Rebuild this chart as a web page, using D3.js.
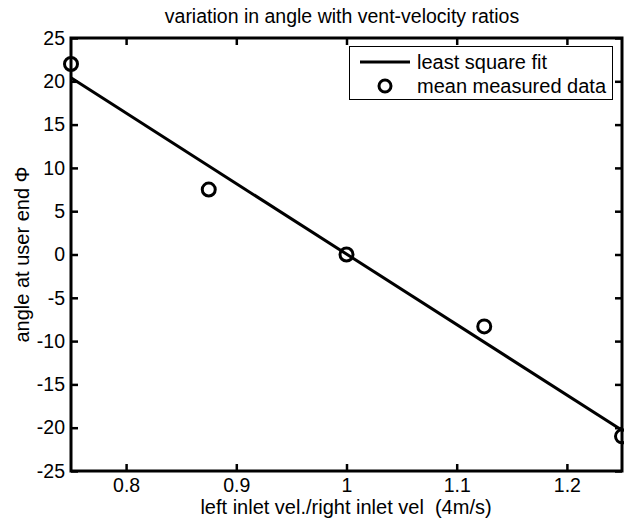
<!DOCTYPE html>
<html>
<head>
<meta charset="utf-8">
<script src="https://cdn.jsdelivr.net/npm/d3@7"></script>
<style>
  body { margin: 0; background: #fff; }
  svg { font-family: "Liberation Sans", Arial, sans-serif; }
  .lbl { white-space: pre; }
</style>
</head>
<body>
<svg id="chart" width="624" height="518"></svg>
<script>
// measured points
const ratios = [0.75, 0.875, 1.0, 1.125, 1.25];
const angles = [22, 7.5, 0, -8.3, -21];

// least square fit line, end points
const fitX = [0.75, 1.25];
const fitY = [20.4, -20.3];

const xTicks = [0.8, 0.9, 1, 1.1, 1.2];
const yTicks = [-25, -20, -15, -10, -5, 0, 5, 10, 15, 20, 25];

const plotL = 71, plotR = 622, plotT = 38, plotB = 471;
const fontSize = 20;

const svg = d3.select("#chart");

const xScale = d3.scaleLinear([0.75, 1.25], [plotL, plotR]);
const yScale = d3.scaleLinear([-25, 25], [plotB, plotT]);

svg.append("defs").append("clipPath")
    .attr("id", "plotClip")
    .append("rect")
    .attr("x", plotL).attr("y", plotT)
    .attr("width", plotR - plotL).attr("height", plotB - plotT);

// axes with inward ticks, box style
const xAxisB = d3.axisBottom(xScale).tickValues(xTicks).tickSize(-7).tickPadding(7)
    .tickFormat(d => String(d));
const xAxisT = d3.axisTop(xScale).tickValues(xTicks).tickSize(-7).tickFormat("");
const yAxisL = d3.axisLeft(yScale).tickValues(yTicks).tickSize(-7).tickPadding(6)
    .tickFormat(d => String(d));
const yAxisR = d3.axisRight(yScale).tickValues(yTicks).tickSize(-7).tickFormat("");

function style(g){
    g.select(".domain").remove();
    g.selectAll(".tick line").attr("stroke", "#000").attr("stroke-width", 2.5);
    g.selectAll(".tick text").attr("fill", "#000").attr("font-size", 19.5)
        .attr("font-family", "Liberation Sans, Arial, sans-serif");
}

svg.append("g").attr("transform", `translate(0,${plotB})`).call(xAxisB).call(style);
svg.append("g").attr("transform", `translate(0,${plotT})`).call(xAxisT).call(style);
svg.append("g").attr("transform", `translate(${plotL},0)`).call(yAxisL).call(style);
svg.append("g").attr("transform", `translate(${plotR},0)`).call(yAxisR).call(style);

// fit line
const line = d3.line().x(d => xScale(d[0])).y(d => yScale(d[1]));
svg.append("path")
    .datum(fitX.map((x, i) => [x, fitY[i]]))
    .attr("clip-path", "url(#plotClip)")
    .attr("fill", "none")
    .attr("stroke", "#000")
    .attr("stroke-width", 3)
    .attr("d", line);

// box
svg.append("rect")
    .attr("x", plotL).attr("y", plotT)
    .attr("width", plotR - plotL).attr("height", plotB - plotT)
    .attr("fill", "none").attr("stroke", "#000").attr("stroke-width", 3);

// markers
svg.selectAll(".pt")
    .data(ratios)
    .enter()
    .append("circle")
    .attr("class", "pt")
    .attr("cx", d => xScale(d))
    .attr("cy", (d, i) => yScale(angles[i]))
    .attr("r", 6.5)
    .attr("fill", "none")
    .attr("stroke", "#000")
    .attr("stroke-width", 3);

// legend
const lg = svg.append("g");
lg.append("rect")
    .attr("x", 349.5).attr("y", 46.5).attr("width", 263).attr("height", 53)
    .attr("fill", "#fff").attr("stroke", "#000").attr("stroke-width", 1);
lg.append("line")
    .attr("x1", 360).attr("x2", 410).attr("y1", 62).attr("y2", 62)
    .attr("stroke", "#000").attr("stroke-width", 3);
lg.append("circle")
    .attr("cx", 385).attr("cy", 86).attr("r", 6)
    .attr("fill", "none").attr("stroke", "#000").attr("stroke-width", 3);
lg.append("text").attr("x", 417).attr("y", 69).attr("font-size", fontSize).text("least square fit");
lg.append("text").attr("x", 417).attr("y", 93).attr("font-size", fontSize).text("mean measured data");

// titles
svg.append("text")
    .attr("x", 342).attr("y", 23)
    .attr("text-anchor", "middle").attr("font-size", 19.5)
    .text("variation in angle with vent-velocity ratios");

svg.append("text")
    .attr("class", "lbl")
    .attr("x", 346).attr("y", 514)
    .attr("text-anchor", "middle").attr("font-size", fontSize)
    .text("left inlet vel./right inlet vel  (4m/s)");

svg.append("text")
    .attr("transform", `translate(29,${(plotT + plotB) / 2}) rotate(-90)`)
    .attr("text-anchor", "middle").attr("font-size", fontSize)
    .text("angle at user end \u03A6");
</script>
</body>
</html>
